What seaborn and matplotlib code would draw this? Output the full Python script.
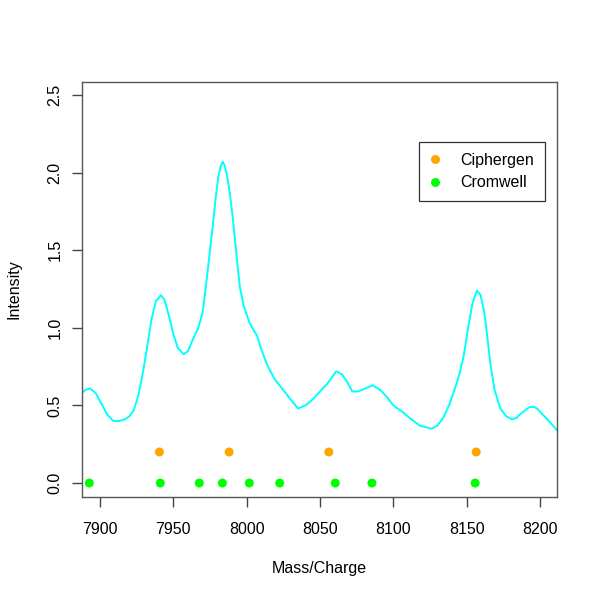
import matplotlib
matplotlib.use('Agg')
import matplotlib.pyplot as plt
import pandas as pd
import seaborn as sns

# spectrum
mz = [7887.7, 7890, 7893, 7897, 7901, 7905, 7909, 7913, 7917, 7920, 7923, 7926, 7929,
      7932, 7935, 7938, 7941.5, 7944, 7947.7, 7950, 7953, 7957, 7960, 7963, 7967, 7970,
      7972.7, 7975, 7977, 7979, 7980.6, 7982.2, 7983.6, 7985.2, 7986.8, 7988.6, 7990.4,
      7992, 7994, 7995.4, 7998, 8002, 8007, 8010, 8014, 8019, 8024, 8029, 8035, 8040,
      8044, 8048, 8052, 8055, 8058, 8061, 8065, 8068, 8072, 8076, 8081, 8086, 8091, 8096,
      8100, 8106, 8111, 8118, 8122, 8126, 8130, 8134, 8138, 8142, 8145, 8148, 8151, 8154,
      8157, 8159.5, 8162, 8164, 8166, 8169, 8173, 8177, 8181, 8184, 8186, 8190, 8193,
      8196, 8198, 8202, 8207, 8211.6]
intensity = [0.58, 0.60, 0.61, 0.58, 0.51, 0.44, 0.40, 0.40, 0.41, 0.43, 0.47, 0.56, 0.70,
             0.87, 1.05, 1.17, 1.21, 1.18, 1.05, 0.96, 0.87, 0.83, 0.85, 0.92, 1.00, 1.10,
             1.31, 1.50, 1.67, 1.85, 1.97, 2.04, 2.07, 2.04, 1.97, 1.86, 1.72, 1.57, 1.38,
             1.26, 1.14, 1.03, 0.95, 0.86, 0.76, 0.67, 0.61, 0.55, 0.48, 0.50, 0.53, 0.57,
             0.61, 0.64, 0.68, 0.72, 0.70, 0.66, 0.59, 0.59, 0.61, 0.63, 0.60, 0.55, 0.50,
             0.46, 0.42, 0.37, 0.36, 0.35, 0.37, 0.42, 0.50, 0.61, 0.70, 0.82, 1.00, 1.16,
             1.24, 1.21, 1.10, 0.95, 0.78, 0.60, 0.48, 0.43, 0.41, 0.42, 0.44, 0.47, 0.49,
             0.49, 0.48, 0.44, 0.39, 0.34]

ciphergen = [7940.5, 7988, 8056, 8156.5]
cromwell = [7892.7, 7941.1, 7967.7, 7983.4, 8001.8, 8022.5, 8060.4, 8085.4, 8155.8]

spec = pd.DataFrame({'mz': mz, 'intensity': intensity})
peaks = pd.DataFrame({
    'mz': ciphergen + cromwell,
    'y': [0.2] * len(ciphergen) + [0.0] * len(cromwell),
    'source': ['Ciphergen'] * len(ciphergen) + ['Cromwell'] * len(cromwell),
})

sns.set_theme(style='white')
plt.rcParams['font.family'] = ['Liberation Sans', 'DejaVu Sans']
plt.rcParams['text.color'] = 'black'
plt.rcParams['axes.labelcolor'] = 'black'
plt.rcParams['xtick.labelcolor'] = 'black'
plt.rcParams['ytick.labelcolor'] = 'black'

fig = plt.figure(figsize=(6, 6), dpi=100)
ax = fig.add_axes([82 / 600, 103 / 600, 475 / 600, 415 / 600])

sns.lineplot(data=spec, x='mz', y='intensity', color='#00FFFF', lw=1.4, ax=ax)
sns.scatterplot(data=peaks, x='mz', y='y', hue='source',
                palette={'Ciphergen': '#FFA500', 'Cromwell': '#00FF00'},
                s=42, edgecolor='none', ax=ax)

ax.set_xlim(7887.7, 8211.6)
ax.set_ylim(-0.09, 2.584)
ax.set_xticks([7900, 7950, 8000, 8050, 8100, 8150, 8200])
ax.set_yticks([0, 0.5, 1.0, 1.5, 2.0, 2.5])
ax.set_yticklabels(['0.0', '0.5', '1.0', '1.5', '2.0', '2.5'], rotation=90, va='center')
ax.tick_params(axis='both', direction='out', length=7, width=1, color='#444444',
               labelsize=11.5, labelcolor='black', bottom=True, left=True)
ax.tick_params(axis='x', pad=11)
ax.tick_params(axis='y', pad=7)
ax.set_xlabel('Mass/Charge', fontsize=11.5, labelpad=17, color='black')
ax.set_ylabel('Intensity', fontsize=11.5, labelpad=18.5, color='black')
for sp in ax.spines.values():
    sp.set_color('#555555')
    sp.set_linewidth(1)

leg = ax.legend(loc='upper right', bbox_to_anchor=(0.975, 0.856), borderaxespad=0,
                fontsize=11.5, frameon=True, fancybox=False, framealpha=1,
                edgecolor='#333333', handletextpad=1.25, borderpad=0.7,
                labelspacing=0.45, markerscale=1.0, handlelength=0.6)
leg.get_frame().set_linewidth(0.9)
for t in leg.get_texts():
    t.set_color('black')

fig.savefig('out.png', dpi=100)
